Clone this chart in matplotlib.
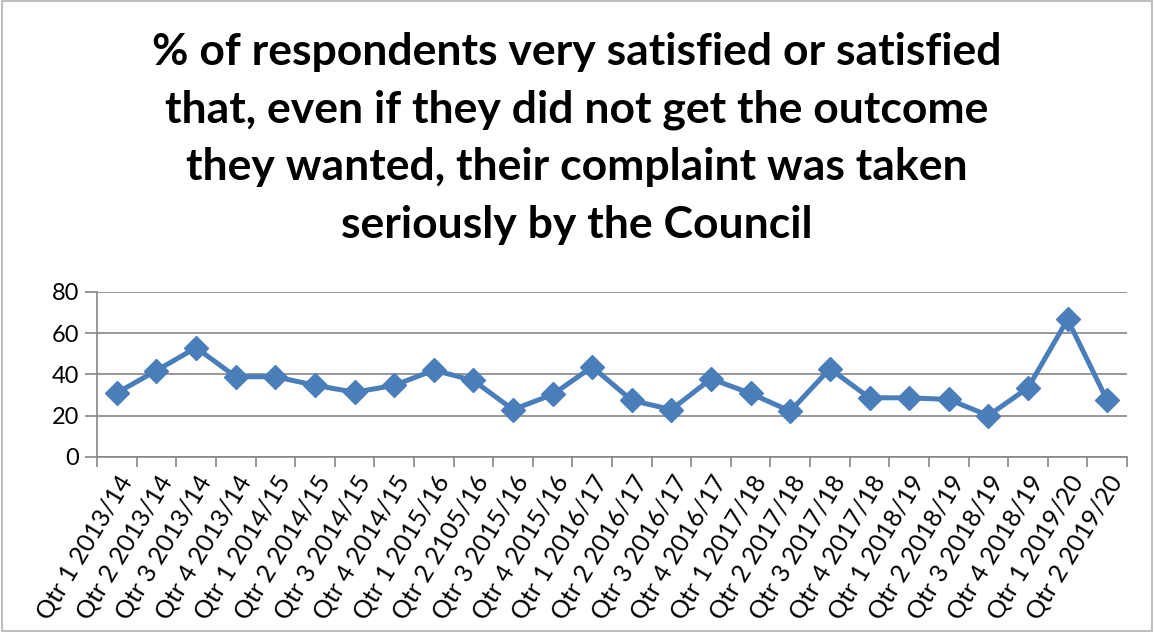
import numpy as np
import matplotlib.pyplot as plt
from matplotlib.patches import Rectangle

quarters = [
    "Qtr 1 2013/14", "Qtr 2 2013/14", "Qtr 3 2013/14", "Qtr 4 2013/14",
    "Qtr 1 2014/15", "Qtr 2 2014/15", "Qtr 3 2014/15", "Qtr 4 2014/15",
    "Qtr 1 2015/16", "Qtr 2 2105/16", "Qtr 3 2015/16", "Qtr 4 2015/16",
    "Qtr 1 2016/17", "Qtr 2 2016/17", "Qtr 3 2016/17", "Qtr 4 2016/17",
    "Qtr 1 2017/18", "Qtr 2 2017/18", "Qtr 3 2017/18", "Qtr 4 2017/18",
    "Qtr 1 2018/19", "Qtr 2 2018/19", "Qtr 3 2018/19", "Qtr 4 2018/19",
    "Qtr 1 2019/20", "Qtr 2 2019/20",
]
pct_satisfied = [
    31.1, 41.9, 53.0, 38.9, 38.9, 34.8, 31.4, 34.7, 42.1, 37.1, 23.0, 30.3,
    43.7, 27.4, 23.0, 37.9, 30.8, 22.2, 42.8, 28.7, 28.7, 27.9, 20.1, 33.5,
    66.7, 27.4,
]
yticks = [0, 20, 40, 60, 80]

title = ("% of respondents very satisfied or satisfied\n"
         "that, even if they did not get the outcome\n"
         "they wanted, their complaint was taken\n"
         "seriously by the Council")

plt.rcParams['font.family'] = ['Lato', 'DejaVu Sans']

fig = plt.figure(figsize=(11.54, 6.32), dpi=100)
fig.patches.append(Rectangle((0.002, 0.002), 0.996, 0.996, transform=fig.transFigure,
                             fill=False, edgecolor='#bfbfbf', linewidth=1.5))

ax = fig.add_axes([0.0841, 0.2769, 0.8925, 0.2611])
x = np.arange(len(quarters))
ax.plot(x, pct_satisfied, color='#4A7EBB', linewidth=3.6, marker='D',
        markersize=12.5, markeredgecolor='#4A7EBB', zorder=3)

grid_c = '#868686'
ax.set_xlim(-0.5, len(quarters) - 0.5)
ax.set_ylim(0, 80)
ax.set_yticks(yticks)
ax.yaxis.grid(True, color=grid_c, linewidth=1.2)
ax.set_axisbelow(True)
for s in ['top', 'right']:
    ax.spines[s].set_visible(False)
for s in ['left', 'bottom']:
    ax.spines[s].set_color(grid_c)
    ax.spines[s].set_linewidth(1.2)

ax.set_xticks(x)
ax.set_xticklabels(quarters, rotation=59, ha='right', rotation_mode='anchor',
                   fontsize=18)
ax.tick_params(axis='x', length=0, pad=10)
ax.set_xticks(np.arange(-0.5, len(quarters)), minor=True)
ax.tick_params(axis='x', which='minor', length=7, color=grid_c, width=1.2)
ax.tick_params(axis='y', length=9, color=grid_c, width=1.2, labelsize=17, pad=4)

fig.text(0.5, 0.95, title, ha='center', va='top', fontsize=32,
         fontweight='bold', linespacing=1.53)

fig.savefig('out.png', dpi=100)
